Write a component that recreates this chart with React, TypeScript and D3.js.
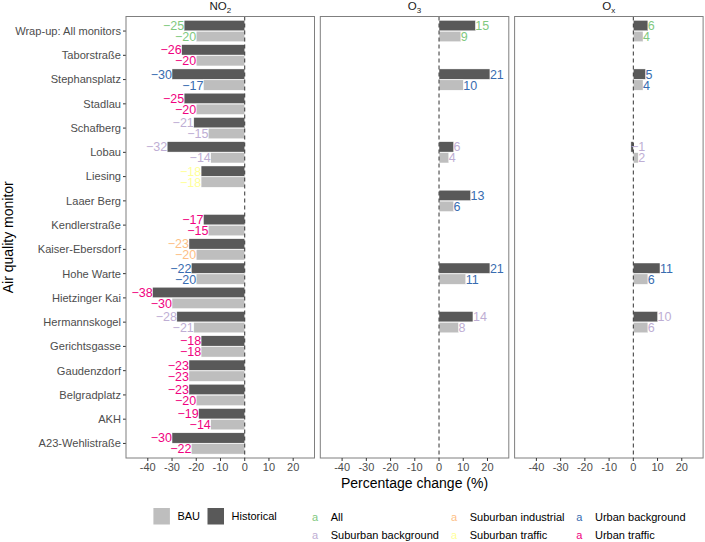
import React from "react";
import * as d3 from "d3";

const monitors = [
  "Wrap-up: All monitors", "Taborstraße", "Stephansplatz", "Stadlau", "Schafberg", "Lobau",
  "Liesing", "Laaer Berg", "Kendlerstraße", "Kaiser-Ebersdorf", "Hohe Warte", "Hietzinger Kai",
  "Hermannskogel", "Gerichtsgasse", "Gaudenzdorf", "Belgradplatz", "AKH", "A23-Wehlistraße",
];
const monitorTypes = [
  "All", "Urban traffic", "Urban background", "Urban traffic", "Suburban background", "Suburban background",
  "Suburban traffic", "Urban background", "Urban traffic", "Suburban industrial", "Urban background", "Urban traffic",
  "Suburban background", "Urban traffic", "Urban traffic", "Urban traffic", "Urban traffic", "Urban traffic",
];
const no2Historical = [-25, -26, -30, -25, -21, -32, -18, null, -17, -23, -22, -38, -28, -18, -23, -23, -19, -30];
const no2BAU = [-20, -20, -17, -20, -15, -14, -18, null, -15, -20, -20, -30, -21, -18, -23, -20, -14, -22];
const o3Historical = [15, null, 21, null, null, 6, null, 13, null, null, 21, null, 14, null, null, null, null, null];
const o3BAU = [9, null, 10, null, null, 4, null, 6, null, null, 11, null, 8, null, null, null, null, null];
const oxHistorical = [6, null, 5, null, null, -1, null, null, null, null, 11, null, 10, null, null, null, null, null];
const oxBAU = [4, null, 4, null, null, 2, null, null, null, null, 6, null, 6, null, null, null, null, null];

const typeNames = ["All", "Suburban background", "Suburban industrial", "Suburban traffic", "Urban background", "Urban traffic"];
const typeColors = ["#7FC97F", "#BEAED4", "#FDC086", "#FFFF99", "#386CB0", "#F0027F"];
const xTicks = [-40, -30, -20, -10, 0, 10, 20];
const scenarios = ["BAU", "Historical"];
const scenarioColors = ["#BEBEBE", "#595959"];

const panels = [
  { key: "NO", sub: "2", hist: no2Historical, bau: no2BAU },
  { key: "O", sub: "3", hist: o3Historical, bau: o3BAU },
  { key: "O", sub: "x", hist: oxHistorical, bau: oxBAU },
];

const FONT = "'Liberation Sans', Arial, sans-serif";

export default function App() {
  const W = 705, H = 542;
  const left0 = 126, panelW = 188.5, gap = 5.8;
  const top = 16.5, bottom = 458;
  const color = d3.scaleOrdinal<string, string>().domain(typeNames).range(typeColors);
  const y = d3.scalePoint<string>().domain(monitors).range([top, bottom]).padding(0.6);
  const step = y.step();
  const barH = step * 0.45;
  const fmt = (v: number) => (v < 0 ? "\u2212" + Math.abs(v) : String(v));

  return (
    <svg width={W} height={H} style={{ position: "absolute", left: 0, top: 0, fontFamily: FONT }}>
      <rect x={0} y={0} width={W} height={H} fill="#fff" />
      {monitors.map((m) => (
        <g key={m}>
          <line x1={left0 - 3} x2={left0} y1={y(m)} y2={y(m)} stroke="#333" strokeWidth={1} />
          <text x={left0 - 5} y={y(m)} dy="0.35em" textAnchor="end" fontSize={11.1} fill="#4D4D4D">{m}</text>
        </g>
      ))}
      <text transform={`translate(13,${(top + bottom) / 2}) rotate(-90)`} textAnchor="middle" fontSize={14} fill="#000">
        Air quality monitor
      </text>
      {panels.map((p, pi) => {
        const x0 = left0 + pi * (panelW + gap);
        const x = d3.scaleLinear().domain([-49, 28.8]).range([x0, x0 + panelW]);
        const items: any[] = [];
        monitors.forEach((m, i) => {
          const c = color(monitorTypes[i]);
          const yc = y(m)!;
          [
            { v: p.hist[i], y0: yc - barH, fill: scenarioColors[1] },
            { v: p.bau[i], y0: yc, fill: scenarioColors[0] },
          ].forEach((b, j) => {
            if (b.v === null || b.v === undefined) return;
            items.push({ m, j, v: b.v, y0: b.y0, fill: b.fill, c });
          });
        });
        return (
          <g key={pi}>
            <text x={x0 + panelW / 2} y={10} textAnchor="middle" fontSize={11.5} fill="#1A1A1A">
              {p.key}
              <tspan fontSize={8} dy={3}>{p.sub}</tspan>
            </text>
            {items.map((b) => (
              <rect key={"r" + b.m + b.j} x={Math.min(x(b.v), x(0))} y={b.y0 + 0.3}
                width={Math.abs(x(b.v) - x(0))} height={barH - 0.6} fill={b.fill} stroke="#fff" strokeWidth={0.4} />
            ))}
            <line x1={x(0)} x2={x(0)} y1={top} y2={bottom} stroke="#333" strokeWidth={1} strokeDasharray="4,3" />
            {items.map((b) => (
              <text key={"t" + b.m + b.j} x={x(b.v)} y={b.y0 + barH / 2} dy="0.36em"
                textAnchor={b.v < -1 ? "end" : "start"} fontSize={12.5} fill={b.c}>
                {fmt(b.v)}
              </text>
            ))}
            <rect x={x0} y={top} width={panelW} height={bottom - top} fill="none" stroke="#7F7F7F" strokeWidth={1} />
            {xTicks.map((t) => (
              <g key={t}>
                <line x1={x(t)} x2={x(t)} y1={bottom} y2={bottom + 3} stroke="#333" strokeWidth={1} />
                <text x={x(t)} y={bottom + 13} textAnchor="middle" fontSize={11} fill="#4D4D4D">{t}</text>
              </g>
            ))}
          </g>
        );
      })}
      <text x={left0 + (3 * panelW + 2 * gap) / 2} y={488} textAnchor="middle" fontSize={14} fill="#000">
        Percentage change (%)
      </text>
      {scenarios.map((s, i) => {
        const lx = [153.4, 207.5][i];
        return (
          <g key={s}>
            <rect x={lx} y={508} width={16.5} height={16.5} fill={scenarioColors[i]} />
            <text x={lx + 24} y={516.5} dy="0.35em" fontSize={11} fill="#000">{s}</text>
          </g>
        );
      })}
      {typeNames.map((t, i) => {
        const col = Math.floor(i / 2), row = i % 2;
        const lx = [315, 454, 579.3][col];
        const ly = [516.7, 535][row];
        return (
          <g key={t}>
            <text x={lx} y={ly} dy="0.35em" textAnchor="middle" fontSize={11} fill={typeColors[i]}>a</text>
            <text x={lx + 15.7} y={ly} dy="0.35em" fontSize={11} fill="#000">{t}</text>
          </g>
        );
      })}
    </svg>
  );
}
